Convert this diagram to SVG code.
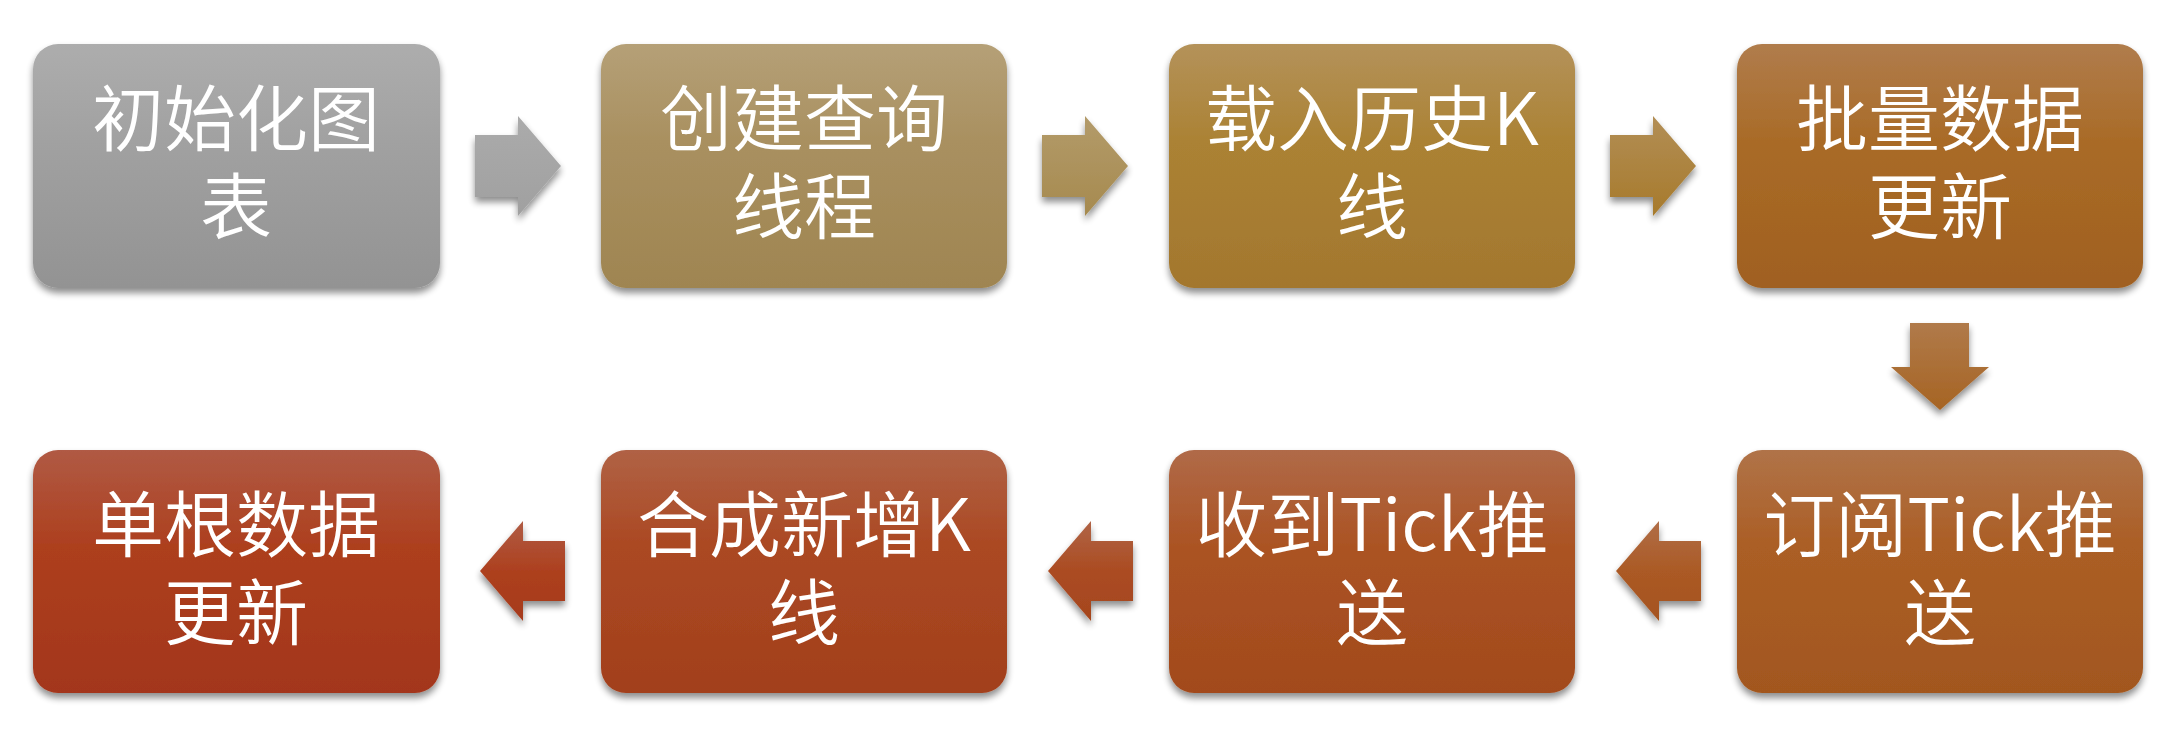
<svg xmlns="http://www.w3.org/2000/svg" width="2172" height="734" viewBox="0 0 2172 734">
<style>
.box{filter:url(#sh);}
.lbl{font-family:"Noto Sans CJK SC","Noto Sans",sans-serif;font-size:72px;font-weight:350;fill:#ffffff;text-anchor:middle;}
.arr{filter:url(#sh);}
</style>
<defs>
<filter id="sh" x="-10%" y="-10%" width="120%" height="125%">
<feGaussianBlur in="SourceAlpha" stdDeviation="3.5"/>
<feOffset dx="0" dy="5" result="b"/>
<feComponentTransfer><feFuncA type="linear" slope="0.45"/></feComponentTransfer>
<feMerge><feMergeNode/><feMergeNode in="SourceGraphic"/></feMerge>
</filter>
<linearGradient id="g1" x1="0" y1="0" x2="0" y2="1"><stop offset="0" stop-color="#adadad"/><stop offset="0.4" stop-color="#a1a1a1"/><stop offset="1" stop-color="#939393"/></linearGradient>
<linearGradient id="g2" x1="0" y1="0" x2="0" y2="1"><stop offset="0" stop-color="#b5a077"/><stop offset="0.4" stop-color="#a99060"/><stop offset="1" stop-color="#9f8551"/></linearGradient>
<linearGradient id="g3" x1="0" y1="0" x2="0" y2="1"><stop offset="0" stop-color="#b4925a"/><stop offset="0.4" stop-color="#ab8234"/><stop offset="1" stop-color="#a3772e"/></linearGradient>
<linearGradient id="g4" x1="0" y1="0" x2="0" y2="1"><stop offset="0" stop-color="#b07c4c"/><stop offset="0.4" stop-color="#a96b27"/><stop offset="1" stop-color="#a06020"/></linearGradient>
<linearGradient id="g5" x1="0" y1="0" x2="0" y2="1"><stop offset="0" stop-color="#b05a44"/><stop offset="0.4" stop-color="#ad3f1e"/><stop offset="1" stop-color="#a3361a"/></linearGradient>
<linearGradient id="g6" x1="0" y1="0" x2="0" y2="1"><stop offset="0" stop-color="#b06245"/><stop offset="0.4" stop-color="#ab4822"/><stop offset="1" stop-color="#a2401d"/></linearGradient>
<linearGradient id="g7" x1="0" y1="0" x2="0" y2="1"><stop offset="0" stop-color="#b06a48"/><stop offset="0.4" stop-color="#ab5323"/><stop offset="1" stop-color="#a24a1d"/></linearGradient>
<linearGradient id="g8" x1="0" y1="0" x2="0" y2="1"><stop offset="0" stop-color="#b07348"/><stop offset="0.4" stop-color="#ab5e25"/><stop offset="1" stop-color="#a2571f"/></linearGradient>
<linearGradient id="a1" x1="0" y1="0" x2="0" y2="1"><stop offset="0" stop-color="#ababab"/><stop offset="1" stop-color="#a0a0a0"/></linearGradient>
<linearGradient id="a2" x1="0" y1="0" x2="0" y2="1"><stop offset="0" stop-color="#b39b6a"/><stop offset="1" stop-color="#a68a4f"/></linearGradient>
<linearGradient id="a3" x1="0" y1="0" x2="0" y2="1"><stop offset="0" stop-color="#b28e56"/><stop offset="1" stop-color="#a77a2b"/></linearGradient>
<linearGradient id="a4" x1="0" y1="0" x2="0" y2="1"><stop offset="0" stop-color="#b07a4a"/><stop offset="1" stop-color="#a66423"/></linearGradient>
<linearGradient id="a5" x1="0" y1="0" x2="0" y2="1"><stop offset="0" stop-color="#b06e48"/><stop offset="0.5" stop-color="#ab5a25"/><stop offset="1" stop-color="#a5531f"/></linearGradient>
<linearGradient id="a6" x1="0" y1="0" x2="0" y2="1"><stop offset="0" stop-color="#b06446"/><stop offset="0.5" stop-color="#ab4c22"/><stop offset="1" stop-color="#a5451e"/></linearGradient>
<linearGradient id="a7" x1="0" y1="0" x2="0" y2="1"><stop offset="0" stop-color="#b05c44"/><stop offset="0.5" stop-color="#ad401f"/><stop offset="1" stop-color="#a63a1b"/></linearGradient>
</defs>
<g id="connectors">
<polygon class="arr" fill="url(#a1)" points="475,135 518,135 518,116 561,166 518,216 518,197 475,197"/>
<polygon class="arr" fill="url(#a2)" points="1042,135 1085,135 1085,116 1128,166 1085,216 1085,197 1042,197"/>
<polygon class="arr" fill="url(#a3)" points="1610,135 1653,135 1653,116 1696,166 1653,216 1653,197 1610,197"/>
<polygon class="arr" fill="url(#a4)" points="1910,323 1969,323 1969,367 1989,367 1940,410 1891,367 1910,367"/>
<polygon class="arr" fill="url(#a5)" points="1701,541 1659,541 1659,521 1616,571 1659,621 1659,601 1701,601"/>
<polygon class="arr" fill="url(#a6)" points="1133,541 1091,541 1091,521 1048,571 1091,621 1091,601 1133,601"/>
<polygon class="arr" fill="url(#a7)" points="565,541 523,541 523,521 480,571 523,621 523,601 565,601"/>
</g>
<g id="n1"><rect class="box" x="33" y="44" width="407" height="244" rx="25" fill="url(#g1)"/><text class="lbl" x="236" y="145">初始化图</text><text class="lbl" x="236" y="233">表</text></g>
<g id="n2"><rect class="box" x="601" y="44" width="406" height="244" rx="25" fill="url(#g2)"/><text class="lbl" x="804" y="145">创建查询</text><text class="lbl" x="804" y="233">线程</text></g>
<g id="n3"><rect class="box" x="1169" y="44" width="406" height="244" rx="25" fill="url(#g3)"/><text class="lbl" x="1372" y="145">载入历史K</text><text class="lbl" x="1372" y="233">线</text></g>
<g id="n4"><rect class="box" x="1737" y="44" width="406" height="244" rx="25" fill="url(#g4)"/><text class="lbl" x="1940" y="145">批量数据</text><text class="lbl" x="1940" y="233">更新</text></g>
<g id="n8"><rect class="box" x="1737" y="450" width="406" height="243" rx="25" fill="url(#g8)"/><text class="lbl" x="1940" y="551">订阅Tick推</text><text class="lbl" x="1940" y="639">送</text></g>
<g id="n7"><rect class="box" x="1169" y="450" width="406" height="243" rx="25" fill="url(#g7)"/><text class="lbl" x="1372" y="551">收到Tick推</text><text class="lbl" x="1372" y="639">送</text></g>
<g id="n6"><rect class="box" x="601" y="450" width="406" height="243" rx="25" fill="url(#g6)"/><text class="lbl" x="804" y="551">合成新增K</text><text class="lbl" x="804" y="639">线</text></g>
<g id="n5"><rect class="box" x="33" y="450" width="407" height="243" rx="25" fill="url(#g5)"/><text class="lbl" x="236" y="551">单根数据</text><text class="lbl" x="236" y="639">更新</text></g>
</svg>
